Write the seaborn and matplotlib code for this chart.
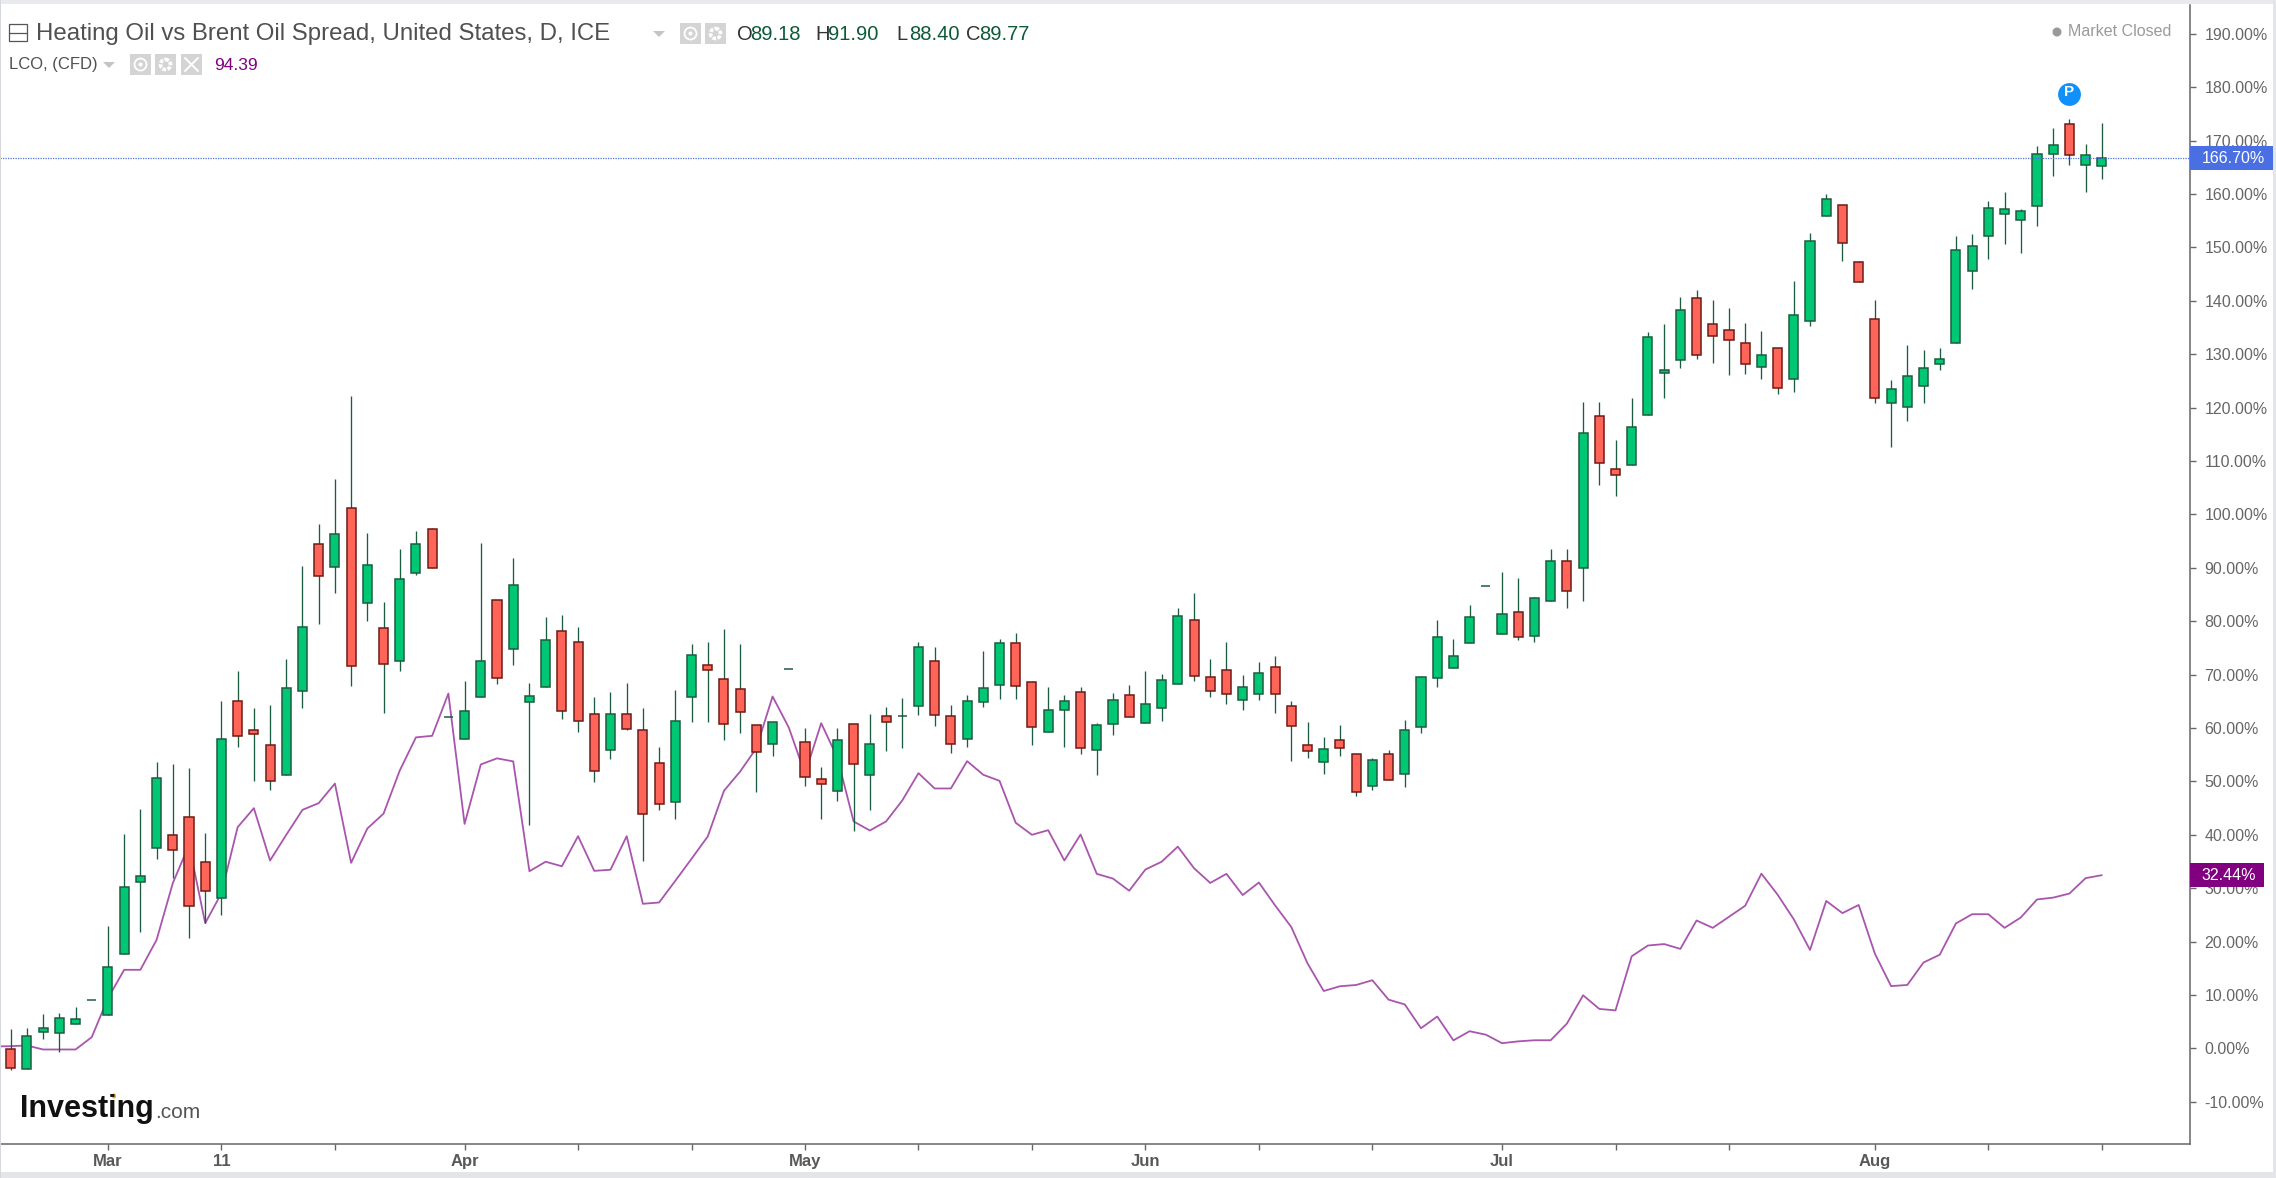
import numpy as np
import pandas as pd
import seaborn as sns
import matplotlib.pyplot as plt
from matplotlib.patches import Rectangle, Circle, Polygon, Ellipse

# candles, percent change
opens = [-0.14, -3.89, 3.11, 2.86, 4.54, 9.16, 6.23, 17.71, 31.2, 37.44,
         40.0, 43.3, 34.94, 28.14, 64.97, 59.66, 56.85, 51.17, 66.9, 94.49,
         90.24, 101.23, 83.5, 78.69, 72.52, 89.06, 97.3, 62.15, 57.91, 65.84,
         84.06, 74.76, 64.96, 67.77, 78.2, 76.2, 62.71, 55.97, 62.71, 59.67,
         53.48, 46.12, 65.78, 71.71, 69.22, 67.22, 60.48, 57.1, 70.96, 57.42,
         50.36, 48.12, 60.79, 51.18, 62.16, 62.16, 64.1, 72.59, 62.16, 57.92,
         64.91, 68.03, 75.96, 68.65, 59.25, 63.46, 66.7, 55.93, 60.71, 66.13,
         60.95, 63.78, 68.24, 80.14, 69.53, 70.91, 65.16, 66.37, 71.47, 64.19,
         56.9, 53.66, 57.71, 55.2, 49.21, 55.2, 51.4, 60.14, 69.45, 71.31,
         75.85, 86.69, 77.57, 81.82, 77.26, 83.75, 91.37, 89.93, 118.34, 108.54,
         109.29, 118.59, 126.45, 128.95, 140.56, 135.75, 134.63, 132.13, 127.58, 131.26,
         125.33, 136.26, 155.92, 157.98, 147.24, 136.63, 120.84, 120.03, 123.96, 128.14,
         132.07, 145.56, 152.05, 156.23, 155.11, 157.67, 167.47, 173.15, 165.53, 165.22]
highs = [3.61, 3.79, 6.41, 6.6, 7.73, 9.16, 22.96, 40.12, 44.87, 53.6,
         53.23, 52.48, 40.31, 65.09, 70.65, 63.66, 64.28, 72.89, 90.37, 98.17,
         106.6, 122.14, 96.49, 83.56, 93.49, 96.86, 97.42, 62.15, 68.77, 94.61,
         84.06, 91.8, 68.4, 80.76, 81.13, 78.88, 65.9, 66.71, 68.4, 63.72,
         56.42, 67.09, 75.77, 76.08, 78.58, 75.77, 60.48, 61.04, 70.96, 60.04,
         52.67, 60.04, 60.79, 62.6, 63.97, 65.66, 76.08, 75.21, 64.28, 66.22,
         74.4, 76.64, 77.77, 68.72, 67.67, 66.13, 67.67, 61.03, 66.54, 68.15,
         70.75, 70.1, 82.41, 85.32, 72.93, 76.09, 69.86, 72.29, 73.5, 64.99,
         61.11, 58.36, 60.62, 55.2, 54.31, 55.85, 61.43, 69.77, 80.14, 76.66,
         83.05, 86.69, 89.25, 88.06, 84.63, 93.49, 93.49, 121.02, 121.02, 113.97,
         121.77, 134.19, 135.63, 140.68, 142.06, 140.12, 138.62, 135.82, 134.44, 131.26,
         143.74, 152.67, 160.04, 157.98, 147.37, 140.13, 125.21, 131.7, 130.83, 131.14,
         152.17, 152.49, 158.67, 160.35, 157.23, 168.97, 172.4, 174.02, 169.34, 173.27]
lows = [-4.01, -3.89, 1.67, -0.58, 4.5, 9.16, 6.23, 17.71, 21.83, 35.38,
        32.0, 20.77, 23.46, 24.95, 56.41, 49.99, 48.3, 51.17, 63.71, 79.44,
        85.37, 67.96, 80.01, 62.9, 70.77, 88.75, 89.93, 62.15, 57.91, 65.84,
        68.21, 71.89, 41.8, 67.77, 61.72, 59.22, 49.96, 54.16, 59.6, 35.07,
        44.56, 42.94, 61.16, 61.16, 57.85, 58.98, 47.99, 54.67, 70.96, 49.05,
        42.94, 46.24, 40.63, 44.62, 55.61, 56.17, 62.35, 60.35, 55.3, 56.42,
        64.03, 65.41, 65.41, 56.73, 59.25, 56.41, 55.12, 51.15, 58.68, 62.08,
        60.87, 61.27, 68.24, 68.72, 65.89, 64.51, 63.38, 65.32, 62.89, 53.9,
        54.39, 51.31, 54.8, 47.18, 48.32, 50.26, 48.88, 59.01, 67.67, 71.31,
        75.85, 86.69, 77.57, 76.4, 76.06, 83.75, 82.51, 83.88, 105.6, 103.36,
        109.29, 118.59, 121.89, 127.51, 129.2, 128.32, 126.08, 126.39, 125.27, 122.46,
        123.02, 135.38, 155.92, 147.37, 143.56, 120.78, 112.6, 117.41, 120.78, 126.96,
        132.07, 142.13, 147.74, 150.55, 149.05, 153.92, 163.47, 165.41, 160.35, 162.85]
closes = [-3.64, 2.29, 3.73, 5.67, 5.42, 9.16, 15.28, 30.2, 32.38, 50.67,
          37.13, 26.76, 29.57, 57.98, 58.48, 58.97, 50.05, 67.53, 79.01, 88.56,
          96.42, 71.7, 90.56, 71.95, 88.0, 94.49, 89.93, 62.15, 63.28, 72.52,
          69.46, 86.87, 66.09, 76.51, 63.28, 61.28, 52.04, 62.71, 59.84, 43.87,
          45.81, 61.35, 73.71, 70.84, 60.73, 62.97, 55.42, 61.04, 70.96, 50.92,
          49.49, 57.67, 53.17, 57.1, 61.04, 62.16, 75.15, 62.41, 57.1, 64.97,
          67.53, 75.96, 67.78, 60.16, 63.3, 64.99, 56.17, 60.54, 65.32, 62.08,
          64.43, 68.97, 81.03, 69.69, 66.94, 66.37, 67.59, 70.34, 66.37, 60.46,
          55.69, 56.0, 56.17, 47.99, 54.07, 50.26, 59.65, 69.53, 77.06, 73.42,
          80.71, 86.69, 81.26, 77.01, 84.38, 91.37, 85.69, 115.28, 109.6, 107.35,
          116.4, 133.26, 127.08, 138.31, 129.82, 133.5, 132.63, 128.14, 129.82, 123.64,
          137.44, 151.24, 159.1, 150.86, 143.56, 121.71, 123.4, 125.96, 127.33, 129.08,
          149.55, 150.36, 157.42, 157.11, 156.86, 167.47, 169.22, 167.22, 167.22, 166.7]

# LCO line, first point sits one day left of the first candle
lco = [0.36, 0.42, 0.55, -0.2, -0.2, -0.2, 2.11, 9.4, 14.72, 14.72, 20.33,
       30.95, 38.1, 23.46, 29.07, 41.43, 44.99, 35.19, 40.0, 44.68, 45.93,
       49.6, 34.75, 41.18, 43.96, 52.04, 58.25, 58.54, 66.46, 42.04, 53.18,
       54.32, 53.75, 33.18, 34.96, 34.11, 39.75, 33.25, 33.46, 39.75, 27.08,
       27.33, 31.39, 35.51, 39.69, 48.24, 51.86, 56.23, 65.91, 60.1, 51.4,
       60.91, 54.42, 42.5, 40.81, 42.5, 46.43, 51.55, 48.68, 48.68, 53.8,
       51.24, 50.11, 42.25, 40.0, 40.87, 35.2, 40.06, 32.69, 31.8, 29.53,
       33.5, 34.96, 37.79, 33.74, 30.99, 32.69, 28.72, 31.07, 26.78, 22.73,
       15.93, 10.75, 11.64, 11.88, 12.77, 9.13, 8.24, 3.78, 5.97, 1.51,
       3.22, 2.57, 0.98, 1.32, 1.53, 1.53, 4.64, 9.95, 7.4, 7.12,
       17.26, 19.27, 19.54, 18.64, 23.96, 22.58, 24.65, 26.72, 32.72, 28.79,
       24.17, 18.44, 27.62, 25.34, 26.86, 17.75, 11.67, 11.88, 16.09, 17.54,
       23.41, 25.13, 25.13, 22.58, 24.51, 27.89, 28.24, 29.0, 31.89, 32.44]

x_ticks = [6, 13, 20, 28, 35, 42, 49, 56, 63, 70, 77, 84, 92, 99, 106, 115, 122, 129]
x_labels = ['Mar', '11', '', 'Apr', '', '', 'May', '', '', 'Jun', '', '', 'Jul', '', '', 'Aug', '', '']
y_ticks = list(range(-10, 200, 10))

title = 'Heating Oil vs Brent Oil Spread, United States, D, ICE'
ohlc = [('O', '89.18', 737), ('H', '91.90', 815), ('L', '88.40', 896), ('C', '89.77', 966)]

GREEN, GREEN_EDGE = '#00c773', '#1c5c40'
RED, RED_EDGE = '#ff6459', '#6e1b16'
LINE = '#a955ad'
GREY = '#666666'

df = pd.DataFrame({'open': opens, 'high': highs, 'low': lows, 'close': closes})
df['day'] = df.index
df['up'] = df['close'] >= df['open']
line_df = pd.DataFrame({'day': np.arange(-1, len(lco) - 1), 'lco': lco})

sns.set_theme(style='white')
plt.rcParams['font.family'] = ['Liberation Sans', 'DejaVu Sans']

W, H = 2276, 1178
fig = plt.figure(figsize=(W / 100, H / 100), dpi=100, facecolor='white')
left, right, top, bottom = 0, 2190, 5, 1144
ax = fig.add_axes([left / W, 1 - bottom / H, (right - left) / W, (bottom - top) / H])

sns.lineplot(data=line_df, x='day', y='lco', color=LINE, lw=1.3, ax=ax, zorder=2)

ax.vlines(df['day'], df['low'], df['high'], color=GREEN_EDGE, lw=0.95, zorder=3)
for up, fill, edge in [(True, GREEN, GREEN_EDGE), (False, RED, RED_EDGE)]:
    part = df[df['up'] == up]
    base = part[['open', 'close']].min(axis=1)
    ax.bar(part['day'], (part['close'] - part['open']).abs(), bottom=base, width=0.56,
           color=fill, edgecolor=edge, linewidth=1.1, zorder=4)

ax.axhline(closes[-1], color='#4f72e3', lw=0.9, ls=(0, (1, 1)), zorder=5)
ax.scatter([127], [178.8], s=270, color='#0f90fb', linewidths=0, zorder=6)
ax.text(127, 179.1, 'P', color='white', fontsize=11, fontweight='bold', ha='center', va='center', zorder=7)

ax.set_xlim(-0.66, 134.44)
ax.set_ylim(-17.9, 195.4)
ax.set_xlabel('')
ax.set_ylabel('')
ax.set_xticks(x_ticks)
ax.set_xticklabels(x_labels, fontsize=12, fontweight='bold', color='#585858')
ax.set_yticks(y_ticks)
ax.set_yticklabels(['%.2f%%' % v for v in y_ticks], fontsize=11.5, color=GREY)
ax.yaxis.tick_right()
ax.tick_params(axis='x', length=4, width=1, color=GREY, pad=3, bottom=True)
ax.tick_params(axis='y', length=4.3, width=1, color=GREY, pad=6, right=True, left=False)
for side in ['left', 'top']:
    ax.spines[side].set_visible(False)
for side in ['right', 'bottom']:
    ax.spines[side].set_color(GREY)
    ax.spines[side].set_linewidth(1.1)

# everything around the plot goes on a pixel overlay
ov = fig.add_axes([0, 0, 1, 1], facecolor='none', zorder=10)
ov.set_xlim(0, W)
ov.set_ylim(H, 0)
ov.axis('off')

ov.add_patch(Rectangle((0, 0), W, 4, color='#e8eaee', lw=0))
ov.add_patch(Rectangle((0, 1172), W, 6, color='#e3e5e8', lw=0))
ov.add_patch(Rectangle((W - 3, 0), 3, H, color='#e3e5e8', lw=0))
ov.add_patch(Rectangle((0, 0), 1.5, H, color='#d5d9de', lw=0))


def icon_box(x0, x1, y0, y1):
    ov.add_patch(Rectangle((x0, y0), x1 - x0, y1 - y0, color='#d4d4d4', lw=0))


def eye(x0, x1, y0, y1):
    icon_box(x0, x1, y0, y1)
    cx, cy = (x0 + x1) / 2, (y0 + y1) / 2
    ov.add_patch(Circle((cx, cy), 6, fc='none', ec='white', lw=1.3))
    ov.add_patch(Circle((cx, cy), 2, fc='white', lw=0))


def gear(x0, x1, y0, y1):
    icon_box(x0, x1, y0, y1)
    cx, cy = (x0 + x1) / 2, (y0 + y1) / 2
    ov.add_patch(Circle((cx, cy), 5, fc='none', ec='white', lw=2.6, ls=(0, (1, 0.4))))


def arrow(x, y):
    ov.add_patch(Polygon([(x - 6, y - 3), (x + 6, y - 3), (x, y + 3)], color='#c4c4c4', lw=0))


# header
ov.add_patch(Rectangle((9, 24), 18, 17, fc='white', ec='#555555', lw=0.9))
ov.plot([9, 27], [32.5, 32.5], color='#555555', lw=0.9)
ov.text(36, 34, title, fontsize=17.3, color='#505050', va='center', ha='left')
arrow(659, 34)
eye(680, 701, 23, 44)
gear(705, 726, 23, 44)
for name, value, x in ohlc:
    t = ov.text(x, 34, name, fontsize=14.5, color='#333333', va='center', ha='left')
    ov.text(x + 13, 34, value, fontsize=14.5, color='#0c5a38', va='center', ha='left')

ov.text(9, 65, 'LCO, (CFD)', fontsize=12, color='#505050', va='center', ha='left')
arrow(109, 65)
eye(130, 151, 54, 75)
gear(155, 176, 54, 75)
icon_box(181, 202, 54, 75)
ov.plot([185, 198], [58, 71], color='white', lw=1.4)
ov.plot([185, 198], [71, 58], color='white', lw=1.4)
ov.text(214, 65, '94.39', fontsize=12.5, color='#800080', va='center', ha='left')

ov.add_patch(Circle((2057, 32), 4.5, color='#999999', lw=0))
ov.text(2068, 32, 'Market Closed', fontsize=11.5, color='#9a9a9a', va='center', ha='left')

# last value tags on the price scale
ov.add_patch(Rectangle((2190, 146), 83, 24, color='#4a6fe3', lw=0))
ov.text(2202, 158.5, '166.70%', fontsize=11.5, color='white', va='center', ha='left')
ov.add_patch(Rectangle((2190, 863), 74, 24, color='#800080', lw=0))
ov.text(2201, 875, '32.44%', fontsize=11.5, color='white', va='center', ha='left')

# logo
ov.text(20, 1109, 'Investing', fontsize=22, fontweight='bold', color='#111111', va='center', ha='left')
ov.text(155, 1113, '.com', fontsize=15, color='#555555', va='center', ha='left')
ov.add_patch(Ellipse((114, 1096), 4, 5, color='#f5a11a', lw=0))

fig.savefig('out.png', dpi=100)
